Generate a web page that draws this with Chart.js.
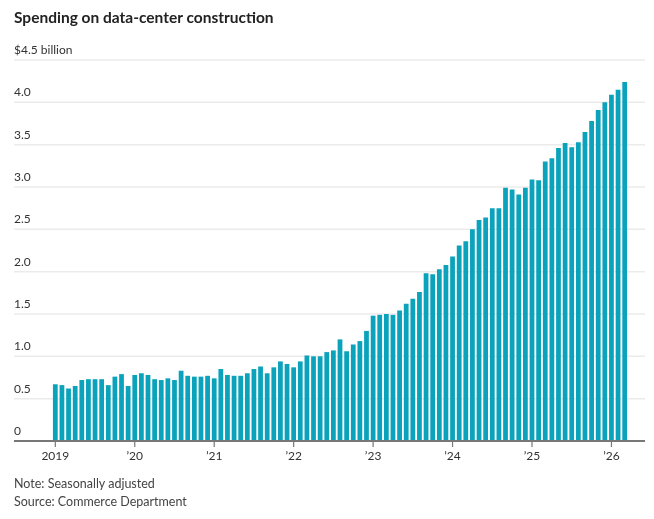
<!DOCTYPE html>
<html>
<head>
<meta charset="utf-8">
<script src="https://cdn.jsdelivr.net/npm/chart.js@4"></script>
<style>
  body { margin: 0; background: #fff; font-family: Lato, "Noto Sans", sans-serif; }
  #wrap { position: relative; width: 654px; height: 519px; }
  #titulo { position: absolute; left: 14px; top: 8px; font-size: 15.5px; font-weight: bold; color: #222; }
  .nota { position: absolute; left: 14px; font-size: 12.5px; color: #444; }
  canvas { position: absolute; left: 0; top: 0; }
</style>
</head>
<body>
<div id="wrap">
  <canvas id="grafico" width="654" height="519"></canvas>
  <div id="titulo">Spending on data-center construction</div>
  <div class="nota" style="top:476px">Note: Seasonally adjusted</div>
  <div class="nota" style="top:494px">Source: Commerce Department</div>
</div>
<script>
// monthly, Jan 2019 .. Apr 2026, $ billion
const gastos = [
  0.67, 0.66, 0.62, 0.65, 0.72, 0.73, 0.73, 0.73, 0.66, 0.76, 0.79, 0.65,
  0.78, 0.80, 0.78, 0.73, 0.72, 0.74, 0.72, 0.83, 0.77, 0.76, 0.76, 0.77,
  0.74, 0.85, 0.78, 0.77, 0.77, 0.80, 0.85, 0.88, 0.80, 0.87, 0.94, 0.91,
  0.87, 0.94, 1.01, 1.00, 1.00, 1.05, 1.07, 1.20, 1.06, 1.14, 1.18, 1.30,
  1.48, 1.49, 1.50, 1.49, 1.54, 1.62, 1.68, 1.76, 1.98, 1.97, 2.03, 2.08,
  2.18, 2.31, 2.36, 2.50, 2.61, 2.64, 2.75, 2.75, 2.99, 2.97, 2.91, 2.99,
  3.09, 3.08, 3.30, 3.34, 3.46, 3.52, 3.47, 3.53, 3.65, 3.78, 3.91, 4.00,
  4.09, 4.15, 4.24
];
const anos = ['2019', '\u201920', '\u201921', '\u201922', '\u201923', '\u201924', '\u201925', '\u201926'];
const ticksY = [0, 0.5, 1.0, 1.5, 2.0, 2.5, 3.0, 3.5, 4.0, 4.5];
const rotulosY = ['0', '0.5', '1.0', '1.5', '2.0', '2.5', '3.0', '3.5', '4.0', '$4.5 billion'];

const meses = gastos.map((_, i) => (2019 + Math.floor(i / 12)) + '-' + (i % 12 + 1));

const eixosWSJ = {
    id: 'eixosWSJ',
    beforeDatasetsDraw(chart) {
        const ctx = chart.ctx;
        const y = chart.scales.y;
        ctx.save();
        ctx.font = '12px Lato, "Noto Sans", sans-serif';
        ctx.fillStyle = '#333';
        ctx.textBaseline = 'bottom';
        ticksY.forEach((v, i) => {
            const py = y.getPixelForValue(v);
            if (v > 0) {
                ctx.strokeStyle = '#ebebeb';
                ctx.lineWidth = 1.5;
                ctx.beginPath();
                ctx.moveTo(14, py);
                ctx.lineTo(645, py);
                ctx.stroke();
            }
            ctx.fillText(rotulosY[i], 14, py - 4);
        });
        ctx.restore();
    },
    afterDatasetsDraw(chart) {
        const ctx = chart.ctx;
        const x = chart.scales.x;
        const py = chart.scales.y.getPixelForValue(0);
        ctx.save();
        ctx.strokeStyle = '#777';
        ctx.lineWidth = 2;
        ctx.beginPath();
        ctx.moveTo(14, py);
        ctx.lineTo(645, py);
        ctx.stroke();
        ctx.font = '12px Lato, "Noto Sans", sans-serif';
        ctx.fillStyle = '#333';
        ctx.textAlign = 'center';
        ctx.textBaseline = 'top';
        ctx.lineWidth = 1.2;
        anos.forEach((a, i) => {
            const px = x.getPixelForValue(i * 12);
            ctx.beginPath();
            ctx.moveTo(px, py);
            ctx.lineTo(px, py + 6);
            ctx.stroke();
            ctx.fillText(a, px, py + 9);
        });
        ctx.restore();
    }
};

new Chart(document.getElementById('grafico').getContext('2d'), {
    type: 'bar',
    data: {
        labels: meses,
        datasets: [{
            data: gastos,
            backgroundColor: '#0aa3bb',
            barPercentage: 0.72,
            categoryPercentage: 1
        }]
    },
    options: {
        responsive: false,
        animation: false,
        layout: { padding: { left: 52, right: 26, top: 60, bottom: 78 } },
        plugins: { legend: { display: false }, tooltip: { enabled: false } },
        scales: {
            x: { display: false },
            y: { display: false, min: 0, max: 4.5 }
        }
    },
    plugins: [eixosWSJ]
});
</script>
</body>
</html>
